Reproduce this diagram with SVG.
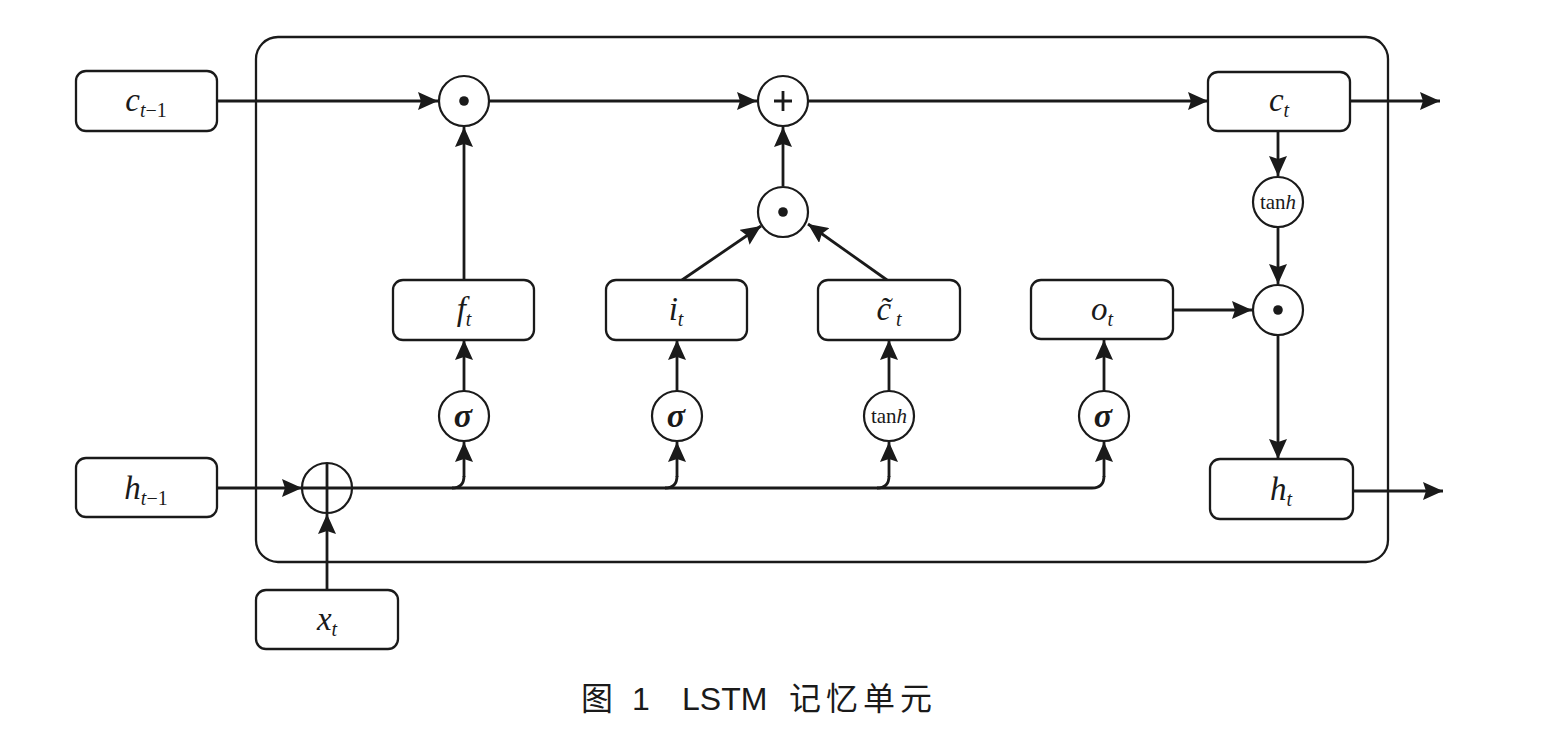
<svg xmlns="http://www.w3.org/2000/svg" width="1541" height="737" viewBox="0 0 1541 737">
<defs>
<marker id="ah" markerUnits="userSpaceOnUse" markerWidth="21" markerHeight="18" refX="20" refY="9" orient="auto">
<path d="M0,0 L20,9 L0,18 L3,9 z" fill="#1a1a1a"/>
</marker>
</defs>
<style>
.box{fill:#fff;stroke:#1a1a1a;stroke-width:2.3}
.circ{fill:#fff;stroke:#1a1a1a;stroke-width:2.2}
.ln{fill:none;stroke:#1a1a1a;stroke-width:2.8}
.la{fill:none;stroke:#1a1a1a;stroke-width:2.8;marker-end:url(#ah)}
.m{font-family:"Liberation Serif","DejaVu Serif",serif;font-style:italic;font-size:33px;fill:#1a1a1a;text-anchor:middle}
.sub{font-size:20px}
.up{font-style:normal}
.sig{font-family:"Liberation Serif","DejaVu Serif",serif;font-style:italic;font-weight:bold;font-size:34px;fill:#1a1a1a;text-anchor:middle}
.tanh{font-family:"Liberation Serif","DejaVu Serif",serif;font-size:21px;fill:#1a1a1a;text-anchor:middle}
.cap{font-family:"Liberation Sans","Noto Sans CJK SC",sans-serif;font-size:32px;fill:#1a1a1a}
.cjk{font-family:"Noto Sans CJK SC",sans-serif}
</style>

<rect id="cell" x="256" y="37" width="1132" height="525" rx="22" fill="none" stroke="#1a1a1a" stroke-width="2.3"/>

<g id="connectors">
<path class="la" d="M217 101 L438 101"/>
<path class="la" d="M490 101 L757 101"/>
<path class="la" d="M809 101 L1208 101"/>
<path class="la" d="M1350 101 L1440 101"/>
<path class="la" d="M464 280 L464 127"/>
<path class="la" d="M783 186 L783 127"/>
<path class="la" d="M682 280 L761 226"/>
<path class="la" d="M887 280 L808 224"/>
<path class="la" d="M1278 131 L1278 176"/>
<path class="la" d="M1278 228 L1278 284"/>
<path class="la" d="M1173 310 L1252 310"/>
<path class="la" d="M1278 336 L1278 459"/>
<path class="la" d="M1353 491 L1443 491"/>
<path class="la" d="M217 488 L302 488"/>
<path class="la" d="M327 590 L327 514"/>
<path class="ln" d="M352 488 L1092 488 Q1104 488 1104 476"/>
<path class="la" d="M1104 477 L1104 442"/>
<path class="ln" d="M452 488 Q464 488 464 476"/>
<path class="la" d="M464 477 L464 442"/>
<path class="ln" d="M665 488 Q677 488 677 476"/>
<path class="la" d="M677 477 L677 442"/>
<path class="ln" d="M877 488 Q889 488 889 476"/>
<path class="la" d="M889 477 L889 442"/>
<path class="la" d="M464 391 L464 340"/>
<path class="la" d="M677 391 L677 340"/>
<path class="la" d="M889 391 L889 340"/>
<path class="la" d="M1104 391 L1104 340"/>
</g>

<g id="c_prev"><rect class="box" x="76" y="71" width="141" height="60" rx="10"/>
<text class="m" x="146" y="111">c<tspan class="sub" dy="6">t</tspan><tspan class="sub up">−1</tspan></text></g>

<g id="h_prev"><rect class="box" x="76" y="458" width="141" height="59" rx="10"/>
<text class="m" x="146" y="499">h<tspan class="sub" dy="6">t</tspan><tspan class="sub up">−1</tspan></text></g>

<g id="x_t"><rect class="box" x="256" y="590" width="142" height="59" rx="10"/>
<text class="m" x="327" y="630">x<tspan class="sub" dy="6">t</tspan></text></g>

<g id="f_t"><rect class="box" x="393" y="280" width="141" height="60" rx="10"/>
<text class="m" x="464" y="320">f<tspan class="sub" dy="6">t</tspan></text></g>

<g id="i_t"><rect class="box" x="606" y="280" width="141" height="60" rx="10"/>
<text class="m" x="676" y="320">i<tspan class="sub" dy="6">t</tspan></text></g>

<g id="ctilde_t"><rect class="box" x="818" y="280" width="142" height="60" rx="10"/>
<text class="m" x="889" y="320">c̃<tspan class="sub" dy="6"> t</tspan></text></g>

<g id="o_t"><rect class="box" x="1031" y="280" width="142" height="59" rx="10"/>
<text class="m" x="1102" y="320">o<tspan class="sub" dy="6">t</tspan></text></g>

<g id="c_t"><rect class="box" x="1208" y="72" width="142" height="59" rx="10"/>
<text class="m" x="1279" y="111">c<tspan class="sub" dy="6">t</tspan></text></g>

<g id="h_t"><rect class="box" x="1210" y="459" width="143" height="60" rx="10"/>
<text class="m" x="1281" y="500">h<tspan class="sub" dy="6">t</tspan></text></g>

<g id="mul_f"><circle class="circ" cx="464" cy="101" r="25"/><circle cx="464" cy="101" r="4.8" fill="#1a1a1a"/></g>
<g id="add_c"><circle class="circ" cx="783" cy="101" r="25"/><path class="ln" d="M774 101 L792 101 M783 91 L783 111" stroke-width="2.2"/></g>
<g id="mul_i"><circle class="circ" cx="783" cy="212" r="25"/><circle cx="783" cy="212" r="4.8" fill="#1a1a1a"/></g>
<g id="mul_o"><circle class="circ" cx="1278" cy="310" r="25"/><circle cx="1278" cy="310" r="4.8" fill="#1a1a1a"/></g>
<g id="tanh_c"><circle class="circ" cx="1278" cy="202" r="25"/><text class="tanh" x="1278" y="209">tan<tspan font-style="italic">h</tspan></text></g>
<g id="concat"><circle class="circ" cx="327" cy="488" r="25"/><path class="ln" d="M302 488 L352 488 M327 463 L327 513"/></g>

<g id="sig_f"><circle class="circ" cx="464" cy="416" r="25"/><text class="sig" x="463" y="427">σ</text></g>
<g id="sig_i"><circle class="circ" cx="677" cy="416" r="25"/><text class="sig" x="676" y="427">σ</text></g>
<g id="tanh_g"><circle class="circ" cx="889" cy="416" r="25"/><text class="tanh" x="889" y="423">tan<tspan font-style="italic">h</tspan></text></g>
<g id="sig_o"><circle class="circ" cx="1104" cy="416" r="25"/><text class="sig" x="1103" y="427">σ</text></g>

<text class="cap" y="710"><tspan class="cjk" x="581">图</tspan><tspan x="632">1</tspan><tspan x="682">LSTM</tspan><tspan class="cjk" x="789" letter-spacing="5">记忆单元</tspan></text>
</svg>
